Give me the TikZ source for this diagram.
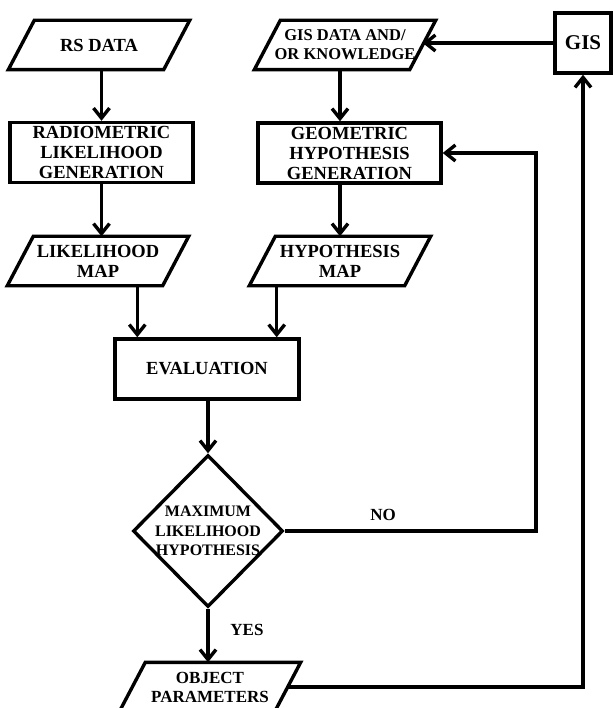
\documentclass[tikz,border=0pt]{standalone}
\usepackage{fontspec}
\setmainfont{Liberation Serif}
\usetikzlibrary{arrows.meta,shapes.geometric}

\begin{document}
\begin{tikzpicture}[x=1pt, y=-1pt, line width=3.4pt,
    every node/.style={font=\fontsize{18.5}{20}\selectfont\bfseries, align=center},
    proc/.style={draw, minimum width=183pt, minimum height=60pt, inner sep=0pt},
    io/.style={minimum width=152pt, minimum height=46pt, inner sep=0pt},
    decide/.style={draw, diamond, minimum width=150pt, minimum height=152pt, inner sep=-8pt,
        font=\fontsize{16}{19.5}\selectfont\bfseries},
    flow/.style={-{Straight Barb[length=10pt,width=16pt]}},]
    \useasboundingbox (0,0) rectangle (612,708);

    % left branch
    \node[io] (rs) at (99,45) {RS DATA};
    \node[proc] (rad) at (101.5,152.5) {RADIOMETRIC\\LIKELIHOOD\\GENERATION};
    \node[io] (lmap) at (98,261) {LIKELIHOOD\\MAP};

    % right branch
    \node[io, font=\fontsize{16.5}{19}\selectfont\bfseries] (gdata) at (345,45) {GIS DATA AND/\\OR KNOWLEDGE};
    \node[proc] (geo) at (349.5,153) {GEOMETRIC\\HYPOTHESIS\\GENERATION};
    \node[io] (hmap) at (340,261) {HYPOTHESIS\\MAP};
    \node[draw, minimum width=56pt, minimum height=60pt, inner sep=0pt,
        font=\fontsize{21}{24}\selectfont\bfseries] (gis) at (583,43) {GIS};

    \node[proc, minimum width=184pt] (eval) at (207,369) {EVALUATION};
    \node[decide] (dec) at (208,531) {MAXIMUM\\LIKELIHOOD\\HYPOTHESIS};
    \node[io, font=\fontsize{17}{19}\selectfont\bfseries] (obj) at (210,687) {OBJECT\\PARAMETERS};

    \node[font=\fontsize{17}{19}\selectfont\bfseries] (yes) at (247,630) {YES};
    \node[font=\fontsize{17}{19}\selectfont\bfseries] (no) at (383,515) {NO};

    % slanted data boxes
    \foreach \n in {rs,lmap,gdata,hmap,obj}
    \draw ([xshift=13pt]\n.north west) -- ([xshift=13pt]\n.north east)
        -- ([xshift=-13pt]\n.south east) -- ([xshift=-13pt]\n.south west) -- cycle;

    \coordinate (inl) at ([xshift=24pt]eval.north west);
    \coordinate (inr) at ([xshift=-24pt]eval.north east);
    \coordinate (nobend) at (536,531);

    \draw[flow] (rs.south -| rad) -- (rad.north);
    \draw[flow] (rad.south) -- (lmap.north -| rad);
    \draw[flow] (gdata.south -| hmap) -- (geo.north -| hmap);
    \draw[flow] (geo.south -| hmap) -- (hmap.north);
    \draw[flow] (inl |- lmap.south) -- (inl);
    \draw[flow] (inr |- hmap.south) -- (inr);
    \draw[flow] (eval.south -| dec) -- (dec.north);
    \draw[flow] (dec.south) -- (dec.south |- obj.north);
    \draw[flow] (dec.east) -- (nobend) |- (geo.east);
    \draw[flow] (obj.east) -| (gis.south);
    \draw[flow] (gis.west) -- (gis.west -| gdata.east);
\end{tikzpicture}
\end{document}
